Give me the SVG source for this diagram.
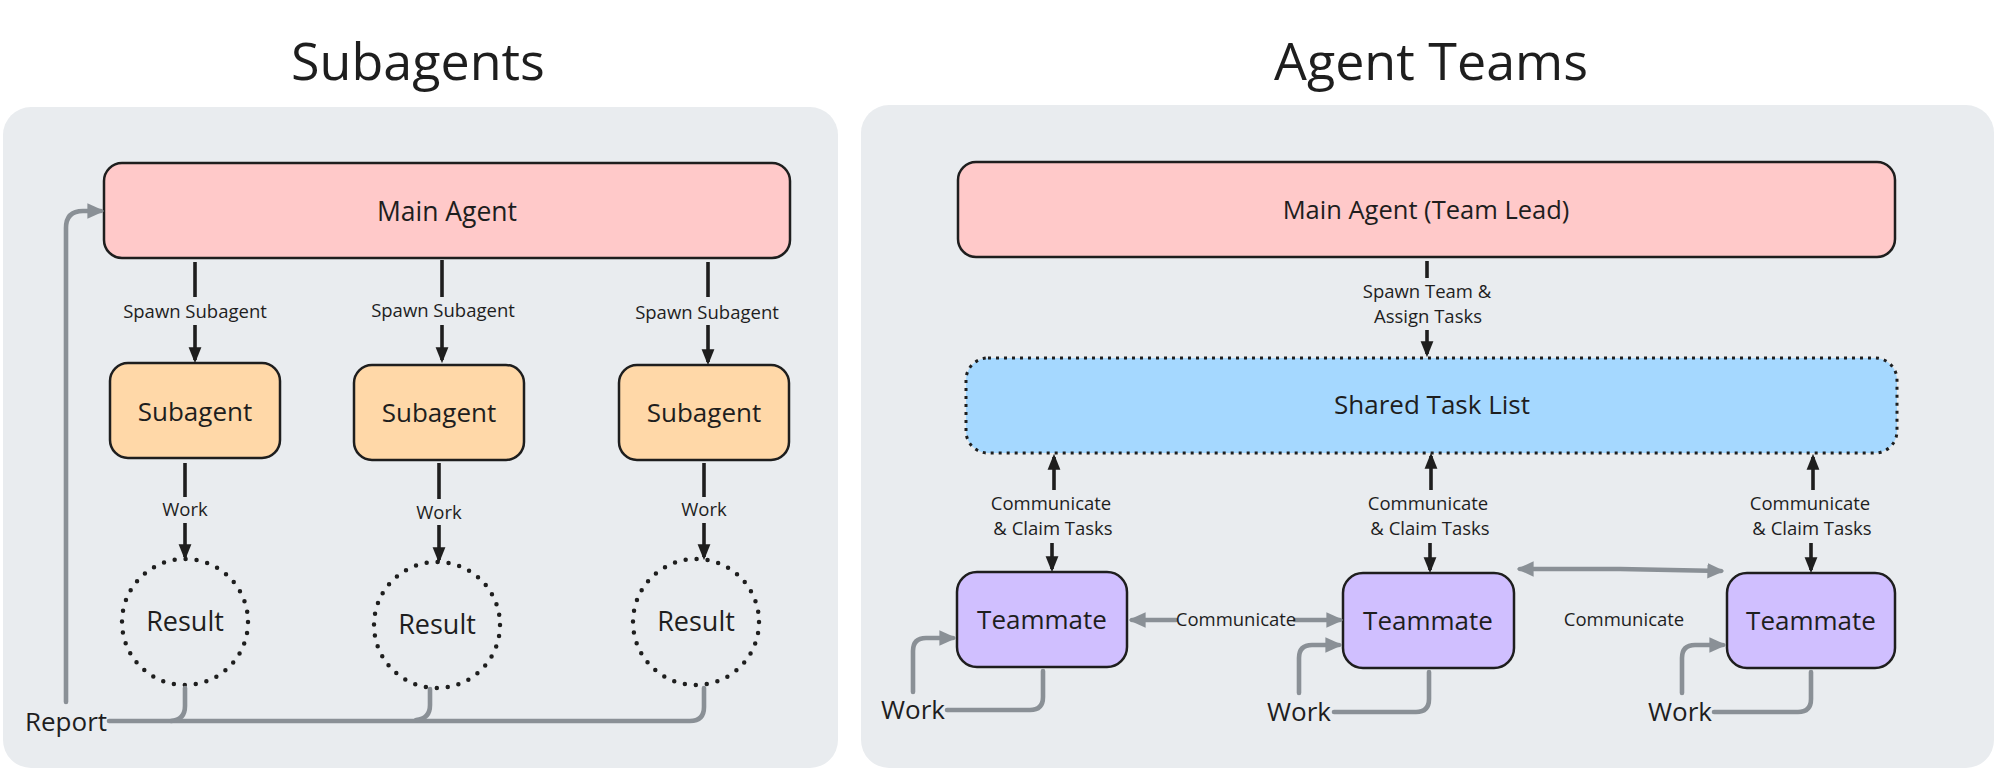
<svg xmlns="http://www.w3.org/2000/svg" width="2000" height="771" viewBox="0 0 2000 771">
<style>
text{font-family:"Open Sans","Noto Sans","Liberation Sans",sans-serif;fill:#1e1e1e;text-anchor:middle}
.title{font-size:52px}
.big{font-size:26px}
.lbl{font-size:18.5px}
.box{stroke:#1e1e1e;stroke-width:2.5}
.blk{fill:none;stroke:#1e1e1e;stroke-width:3.6}
.gry{fill:none;stroke:#8a9096;stroke-width:4.6;stroke-linecap:round;stroke-linejoin:round}
.dots{fill:none;stroke:#1e1e1e;stroke-width:4.5;stroke-linecap:round;stroke-dasharray:0 11}
</style>
<defs>
<marker id="ab" viewBox="0 0 10 10" refX="8" refY="5" markerUnits="userSpaceOnUse" markerWidth="16" markerHeight="16" orient="auto-start-reverse">
<path d="M0,1 L10,5 L0,9 z" fill="#1e1e1e"/>
</marker>
<marker id="ag" viewBox="0 0 10 10" refX="8" refY="5" markerUnits="userSpaceOnUse" markerWidth="17" markerHeight="17" orient="auto-start-reverse">
<path d="M0,0.5 L10,5 L0,9.5 z" fill="#8a9096"/>
</marker>
</defs>
<rect width="2000" height="771" fill="#ffffff"/>

<!-- panels -->
<rect x="3" y="107" width="835" height="661" rx="28" fill="#e9ecef"/>
<rect x="861" y="105" width="1133" height="663" rx="28" fill="#e9ecef"/>
<text class="title" x="418" y="80">Subagents</text>
<text class="title" x="1431" y="80">Agent Teams</text>

<!-- LEFT nodes -->
<g id="main-agent">
<rect class="box" x="104" y="163" width="686" height="95" rx="18" fill="#ffc9c9"/>
<text x="447" y="221" style="font-size:26.5px">Main Agent</text>
</g>
<g id="subagent-1">
<rect class="box" x="110" y="363" width="170" height="95" rx="18" fill="#ffd8a8"/>
<text class="big" x="195" y="421">Subagent</text>
</g>
<g id="subagent-2">
<rect class="box" x="354" y="365" width="170" height="95" rx="18" fill="#ffd8a8"/>
<text class="big" x="439" y="422">Subagent</text>
</g>
<g id="subagent-3">
<rect class="box" x="619" y="365" width="170" height="95" rx="18" fill="#ffd8a8"/>
<text class="big" x="704" y="422">Subagent</text>
</g>
<g id="result-1">
<circle class="dots" cx="185" cy="622" r="63"/>
<text x="185" y="631" style="font-size:27px">Result</text>
</g>
<g id="result-2">
<circle class="dots" cx="437" cy="625" r="63"/>
<text x="437" y="634" style="font-size:27px">Result</text>
</g>
<g id="result-3">
<circle class="dots" cx="696" cy="622" r="63"/>
<text x="696" y="631" style="font-size:27px">Result</text>
</g>

<!-- RIGHT nodes -->
<g id="team-lead">
<rect class="box" x="958" y="162" width="937" height="95" rx="18" fill="#ffc9c9"/>
<text x="1426" y="219" style="font-size:25.5px">Main Agent (Team Lead)</text>
</g>
<g id="shared-task-list">
<rect x="966" y="358" width="931" height="95" rx="22" fill="#a5d8ff" stroke="#1e1e1e" stroke-width="3" stroke-dasharray="3 5"/>
<text class="big" x="1432" y="414">Shared Task List</text>
</g>
<g id="teammate-1">
<rect class="box" x="957" y="572" width="170" height="95" rx="20" fill="#d0bfff"/>
<text class="big" x="1042" y="629">Teammate</text>
</g>
<g id="teammate-2">
<rect class="box" x="1343" y="573" width="171" height="95" rx="20" fill="#d0bfff"/>
<text class="big" x="1428" y="630">Teammate</text>
</g>
<g id="teammate-3">
<rect class="box" x="1727" y="573" width="168" height="95" rx="20" fill="#d0bfff"/>
<text class="big" x="1811" y="630">Teammate</text>
</g>

<!-- connectors -->
<g id="connectors">
<!-- spawn subagent -->
<path class="blk" d="M195,262 L195,297"/><path class="blk" d="M195,325 L195,360" marker-end="url(#ab)"/>
<path class="blk" d="M442,260 L442,297"/><path class="blk" d="M442,325 L442,360" marker-end="url(#ab)"/>
<path class="blk" d="M708,262 L708,297"/><path class="blk" d="M708,325 L708,362" marker-end="url(#ab)"/>
<text class="lbl" x="195" y="318">Spawn Subagent</text>
<text class="lbl" x="443" y="317">Spawn Subagent</text>
<text class="lbl" x="707" y="319">Spawn Subagent</text>
<!-- work -->
<path class="blk" d="M185,463 L185,497"/><path class="blk" d="M185,523 L185,557" marker-end="url(#ab)"/>
<path class="blk" d="M439,463 L439,499"/><path class="blk" d="M439,525 L439,560" marker-end="url(#ab)"/>
<path class="blk" d="M704,463 L704,497"/><path class="blk" d="M704,523 L704,557" marker-end="url(#ab)"/>
<text class="lbl" x="185" y="516">Work</text>
<text class="lbl" x="439" y="519">Work</text>
<text class="lbl" x="704" y="516">Work</text>
<!-- report -->
<path class="gry" d="M66,702 L66,228 Q66,211 83,211 L101,211" marker-end="url(#ag)"/>
<path class="gry" d="M109,721 L690,721 Q704,721 704,707 L704,688"/>
<path class="gry" d="M185,688 L185,706 Q185,720 171,721"/>
<path class="gry" d="M430,689 L430,705 Q430,719 416,720"/>
<text x="66" y="731" style="font-size:26px">Report</text>

<!-- team lead to shared list -->
<path class="blk" d="M1427,261 L1427,278"/><path class="blk" d="M1427,330 L1427,354" marker-end="url(#ab)"/>
<text class="lbl" x="1427" y="298">Spawn Team &amp;</text>
<text class="lbl" x="1428" y="323">Assign Tasks</text>
<!-- communicate & claim -->
<path class="blk" d="M1054,490 L1054,457" marker-end="url(#ab)"/><path class="blk" d="M1052,543 L1052,569" marker-end="url(#ab)"/>
<path class="blk" d="M1431,490 L1431,456" marker-end="url(#ab)"/><path class="blk" d="M1430,543 L1430,570" marker-end="url(#ab)"/>
<path class="blk" d="M1813,490 L1813,457" marker-end="url(#ab)"/><path class="blk" d="M1811,543 L1811,570" marker-end="url(#ab)"/>
<text class="lbl" x="1051" y="510">Communicate</text>
<text class="lbl" x="1053" y="535">&amp; Claim Tasks</text>
<text class="lbl" x="1428" y="510">Communicate</text>
<text class="lbl" x="1430" y="535">&amp; Claim Tasks</text>
<text class="lbl" x="1810" y="510">Communicate</text>
<text class="lbl" x="1812" y="535">&amp; Claim Tasks</text>
<!-- teammate communicate -->
<path class="gry" d="M1176,620 L1132,620" marker-end="url(#ag)"/>
<path class="gry" d="M1295,620 L1340,620" marker-end="url(#ag)"/>
<text class="lbl" x="1236" y="626">Communicate</text>
<path class="gry" d="M1520,569 L1620,569 L1721,571" marker-start="url(#ag)" marker-end="url(#ag)"/>
<text class="lbl" x="1624" y="626">Communicate</text>
<!-- work loops -->
<path class="gry" d="M947,710 L1030,710 Q1043,710 1043,697 L1043,671"/>
<path class="gry" d="M913,692 L913,651 Q913,638 926,638 L953,638" marker-end="url(#ag)"/>
<text x="913" y="719" style="font-size:26px">Work</text>
<path class="gry" d="M1334,712 L1416,712 Q1429,712 1429,699 L1429,672"/>
<path class="gry" d="M1299,693 L1299,658 Q1299,645 1312,645 L1339,645" marker-end="url(#ag)"/>
<text x="1299" y="721" style="font-size:26px">Work</text>
<path class="gry" d="M1714,712 L1798,712 Q1811,712 1811,699 L1811,672"/>
<path class="gry" d="M1682,693 L1682,658 Q1682,645 1695,645 L1723,645" marker-end="url(#ag)"/>
<text x="1680" y="721" style="font-size:26px">Work</text>
</g>
</svg>
